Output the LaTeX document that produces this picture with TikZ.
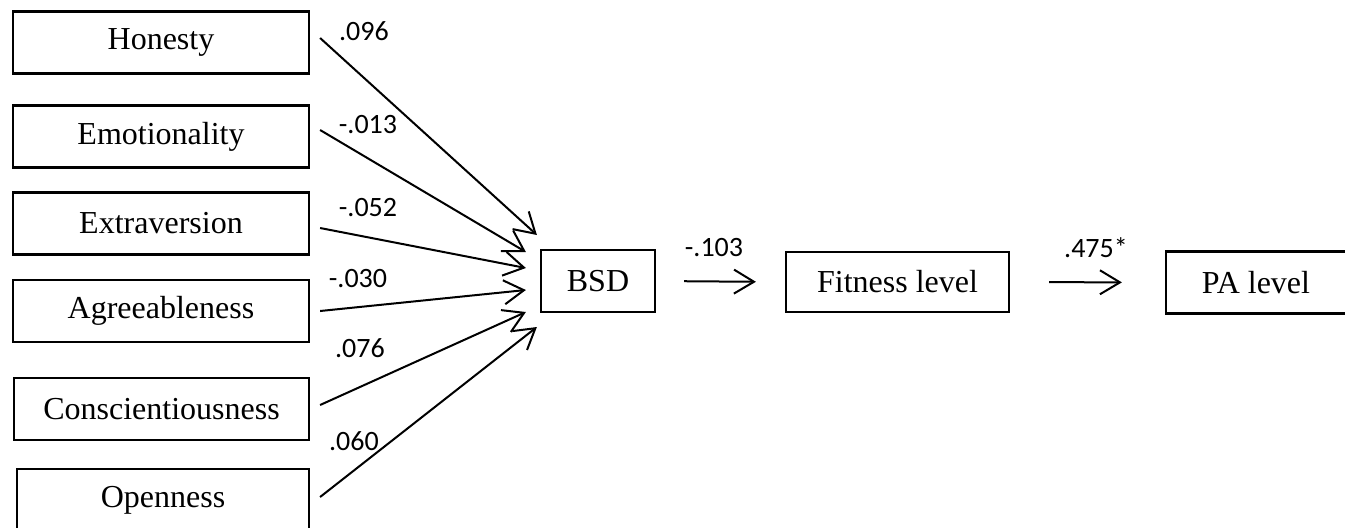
\documentclass[tikz,border=0pt]{standalone}
\usepackage{fontspec}
\setmainfont{Liberation Serif}
\newfontfamily\numfont{Carlito}
\usetikzlibrary{arrows.meta}

\begin{document}
\begin{tikzpicture}[x=0.5pt,y=-0.5pt,
  box/.style={draw, line width=1.1pt, minimum height=31pt, inner sep=0pt, font=\fontsize{16}{19}\selectfont},
  link/.style={line width=1pt, -{Straight Barb[length=10pt,width=12pt]}},
  coef/.style={inner sep=0pt, font=\numfont\fontsize{14}{17}\selectfont}]
\useasboundingbox (0,0) rectangle (1345,527);
% personality traits
\node [box, minimum width=148pt] (hon) at (161,42.5) {Honesty};
\node [box, minimum width=148pt] (emo) at (161,136.5) {Emotionality};
\node [box, minimum width=148pt] (ext) at (161,223.5) {Extraversion};
\node [box, minimum width=148pt] (agr) at (161,311) {Agreeableness};
\node [box, minimum width=147.5pt] (con) at (161.5,409) {Conscientiousness};
\node [box, minimum width=146pt] (ope) at (163,500) {Openness};
% chain
\node [box, minimum width=57pt] (bsd) at (598,281) {BSD};
\node [box, minimum width=111.5pt, minimum height=30pt] (fit) at (897.5,282) {Fitness level};
\node [box, minimum width=90pt] (pa) at (1256,282.5) {PA level};
% paths into BSD
\draw [link] ([shift={(10,-4.5)}]hon.east) to ([shift={(-3,-46)}]bsd.west);
\draw [link] ([shift={(10,-6.5)}]emo.east) to ([shift={(-14,-29)}]bsd.west);
\draw [link] ([shift={(10,4.5)}]ext.east) to ([shift={(-14,-13)}]bsd.west);
\draw [link] ([shift={(10,0)}]agr.east) to ([shift={(-14,9)}]bsd.west);
\draw [link] ([shift={(10,-4)}]con.east) to ([shift={(-14,31)}]bsd.west);
\draw [link] ([shift={(10,-3)}]ope.east) to ([shift={(-3,46)}]bsd.west);
\draw [link, shorten <=14pt, shorten >=14.5pt] (bsd.east) to (fit.west);
\draw [link, shorten <=19.5pt, shorten >=21.5pt] (fit.east) to (pa.west);
% coefficients
\node [coef] (c1) at (364,31) {.096};
\node [coef] (c2) at (368,125) {-.013};
\node [coef] (c3) at (368,208) {-.052};
\node [coef] (c4) at (358,279) {-.030};
\node [coef] (c5) at (360,348) {.076};
\node [coef] (c6) at (354,441) {.060};
\node [coef] (c7) at (714,248) {-.103};
\node [coef] (c8) at (1096,248) {.475*};
\end{tikzpicture}
\end{document}
